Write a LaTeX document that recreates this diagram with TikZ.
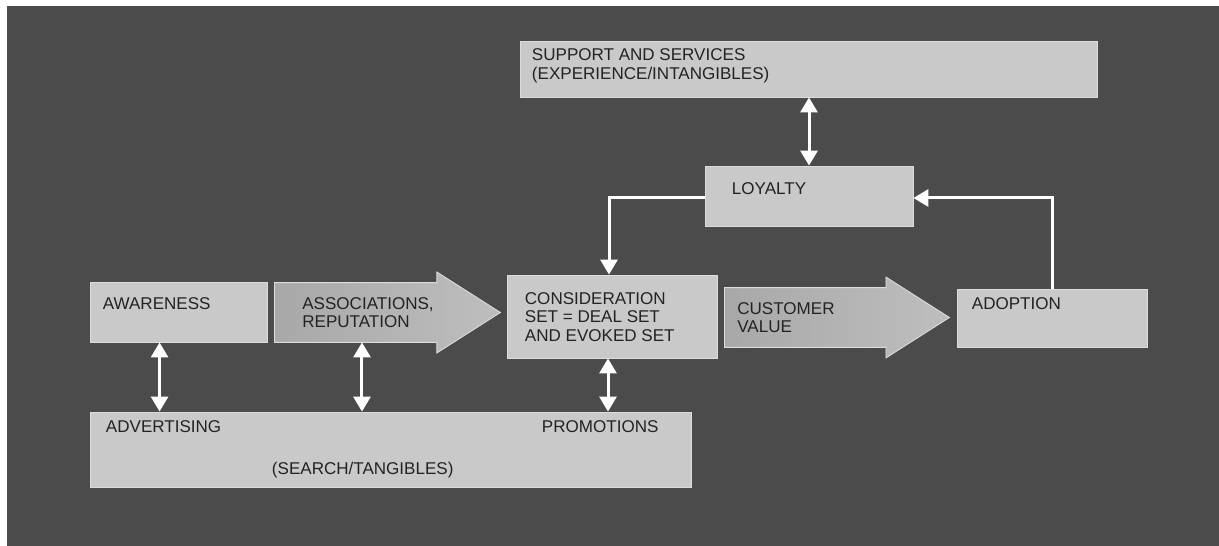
\documentclass[tikz,border=0pt]{standalone}
\usepackage{fontspec}
\setmainfont{Liberation Sans}
\usetikzlibrary{arrows.meta, shapes.arrows}
\definecolor{backgray}{HTML}{4B4B4B}
\definecolor{boxgray}{HTML}{C9C9C9}
\definecolor{edgegray}{HTML}{DCDCDC}
\definecolor{inkgray}{HTML}{232323}
\definecolor{shadedark}{HTML}{A8A8A8}
\definecolor{shadelight}{HTML}{DCDCDC}
\definecolor{shadeend}{HTML}{BEBEBE}

\begin{document}
\begin{tikzpicture}[x=0.02cm, y=-0.02cm,
  box/.style={draw=edgegray, line width=0.5pt, fill=boxgray, inner sep=0pt},
  bigarrow/.style={single arrow, draw=edgegray, line width=0.5pt, inner xsep=0pt, inner ysep=0.59cm,
    left color=shadedark, middle color=shadelight, right color=shadeend,
    single arrow head extend=0.21cm, single arrow tip angle=65, anchor=tail},
  boxtext/.style={anchor=base west, inner sep=0pt, align=left, text=inkgray,
    font=\fontsize{9.7pt}{10.6pt}\selectfont},
  oneway/.style={draw=white, line width=0.06cm, -{Triangle[length=0.3cm,width=0.34cm]}},
  twoway/.style={draw=white, line width=0.06cm, {Triangle[length=0.3cm,width=0.34cm]}-{Triangle[length=0.3cm,width=0.34cm]}}]
\useasboundingbox (0,0) rectangle (1219,546);
\fill[backgray] (7,6) rectangle (1219,546);
%top row
\node[box, minimum width=11.54cm, minimum height=1.12cm] (support) at (808.5,69) {};
\node[box, minimum width=4.16cm, minimum height=1.2cm] (loyalty) at (809,196) {};
%middle row
\node[box, minimum width=3.54cm, minimum height=1.2cm] (aware) at (178.5,312) {};
\node[bigarrow, minimum height=4.52cm] (assoc) at (274,312.5) {};
\node[box, minimum width=4.2cm, minimum height=1.66cm] (consid) at (612,316.5) {};
\node[bigarrow, minimum height=4.5cm] (custval) at (724,317.5) {};
\node[box, minimum width=3.8cm, minimum height=1.16cm] (adopt) at (1052,318) {};
%bottom row
\node[box, minimum width=12.02cm, minimum height=1.5cm] (search) at (390.5,449.5) {};
%texts (base is the last line)
\node[boxtext] (supporttext) at ([shift={(12,39)}]support.north west) {SUPPORT AND SERVICES\\(EXPERIENCE/INTANGIBLES)};
\node[boxtext] (loyaltytext) at ([shift={(27,29)}]loyalty.north west) {LOYALTY};
\node[boxtext] (awaretext) at ([shift={(13,28)}]aware.north west) {AWARENESS};
\node[boxtext] (assoctext) at ([shift={(28,15.5)}]assoc.tail) {ASSOCIATIONS,\\REPUTATION};
\node[boxtext] (considtext) at ([shift={(18,67)}]consid.north west) {CONSIDERATION\\SET = DEAL SET\\AND EVOKED SET};
\node[boxtext] (custvaltext) at ([shift={(13,15.5)}]custval.tail) {CUSTOMER\\VALUE};
\node[boxtext] (adopttext) at ([shift={(15,21)}]adopt.north west) {ADOPTION};
\node[boxtext] (advtext) at ([shift={(16,21)}]search.north west) {ADVERTISING};
\node[boxtext] (promotext) at ([shift={(452,21)}]search.north west) {PROMOTIONS};
\node[boxtext] (searchtext) at ([shift={(182,63)}]search.north west) {(SEARCH/TANGIBLES)};
%links to the bottom box
\draw[twoway] ([xshift=1.4cm]aware.south west) -- ([xshift=1.4cm]aware.south west |- search.north);
\draw[twoway] ([xshift=1.76cm]assoc.tail |- aware.south) -- ([xshift=1.76cm]assoc.tail |- search.north);
\draw[twoway] ([xshift=-0.08cm]consid.south) -- ([xshift=-0.08cm]consid.south |- search.north);
%loop through loyalty
\draw[twoway] (support.south -| loyalty.north) -- (loyalty.north);
\draw[oneway] ([yshift=-0.04cm]loyalty.west) -| ([xshift=-0.06cm]consid.north);
\draw[oneway] (adopt.north) |- ([yshift=-0.04cm]loyalty.east);
\end{tikzpicture}
\end{document}
